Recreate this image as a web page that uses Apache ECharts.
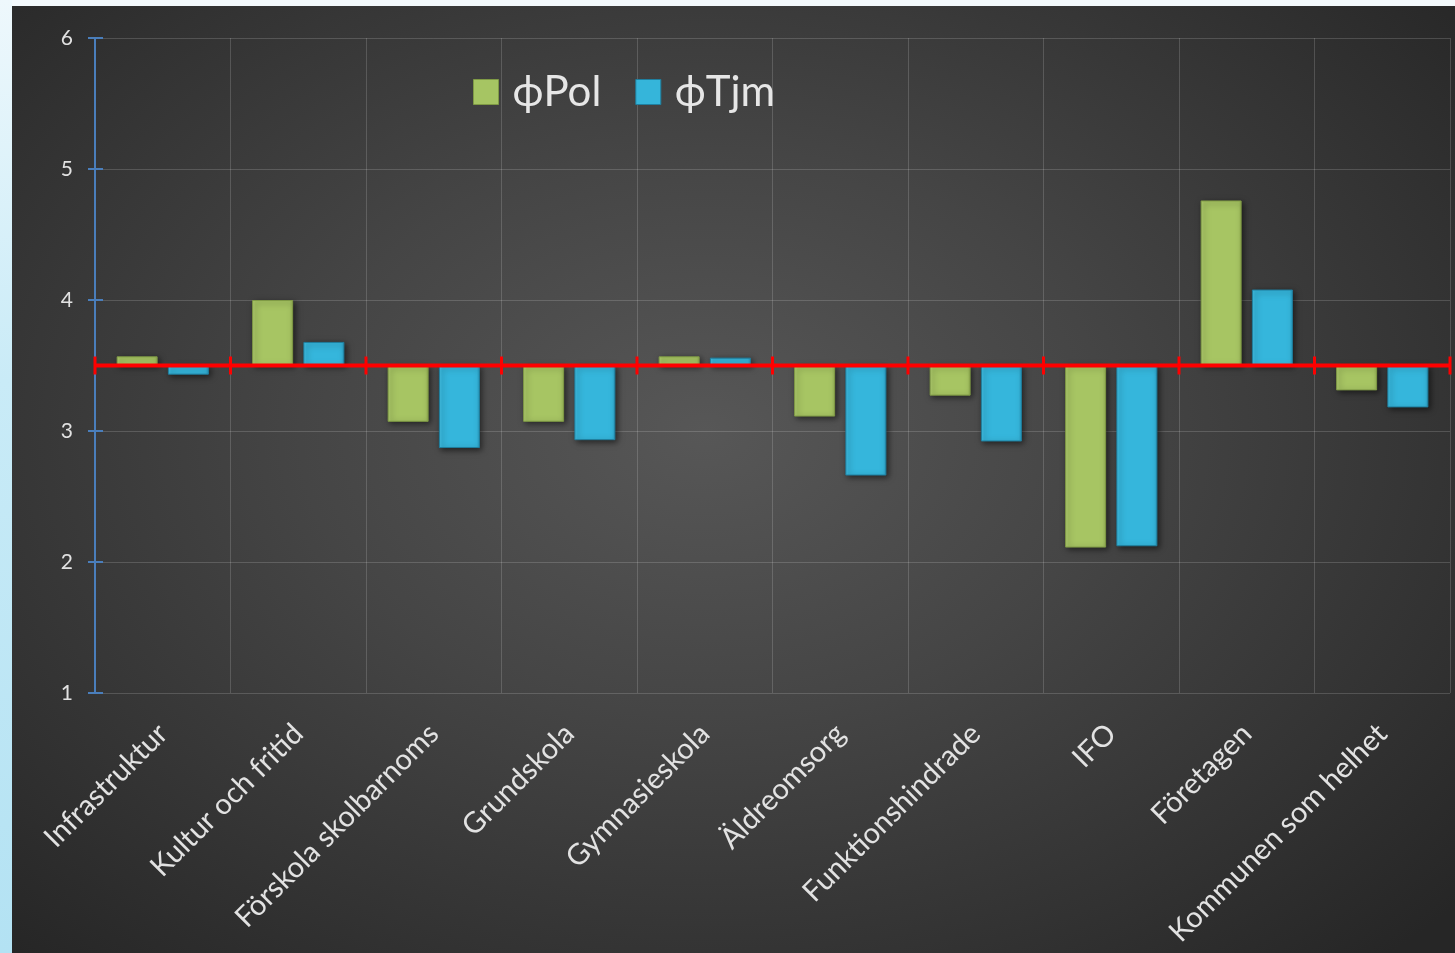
<!DOCTYPE html>
<html>
<head>
<meta charset="utf-8">
<script src="https://cdn.jsdelivr.net/npm/echarts@6/dist/echarts.min.js"></script>
<style>
  html, body { margin: 0; padding: 0; width: 1455px; height: 953px; overflow: hidden; background: #f3f9fc; }
  #strip { position: absolute; left: 0; top: 0; width: 12px; height: 953px;
    background: linear-gradient(180deg, #eef8fc 0%, #c9ebf7 40%, #b3e2f3 100%); }
  #chart { position: absolute; left: 12px; top: 6px; width: 1443px; height: 947px;
    background: radial-gradient(ellipse 70% 75% at 48% 45%, #575757 0%, #454545 40%, #333333 75%, #262626 100%); }
</style>
</head>
<body>
<div id="strip"></div>
<div id="chart"></div>
<script>
const categories = ['Infrastruktur', 'Kultur och fritid', 'Förskola skolbarnoms', 'Grundskola', 'Gymnasieskola',
  'Äldreomsorg', 'Funktionshindrade', 'IFO', 'Företagen', 'Kommunen som helhet'];
const polValues = [3.57, 4.00, 3.07, 3.07, 3.57, 3.11, 3.27, 2.11, 4.76, 3.31];
const tjmValues = [3.43, 3.68, 2.87, 2.93, 3.56, 2.66, 2.92, 2.12, 4.08, 3.18];
const seriesNames = ['ϕPol', 'ϕTjm'];
const referenceValue = 3.5;
const yTicks = [1, 2, 3, 4, 5, 6];

const chart = echarts.init(document.getElementById('chart'), null, { renderer: 'canvas' });
const FONT = 'Lato, "Noto Sans", sans-serif';

const baseOf = v => Math.min(v, referenceValue);
const deltaOf = v => Math.abs(v - referenceValue);

function barStyle(c0, c1, c2, edge) {
  return {
    color: new echarts.graphic.LinearGradient(0, 0, 1, 0, [
      { offset: 0, color: c1 }, { offset: 0.08, color: c0 }, { offset: 0.92, color: c0 }, { offset: 1, color: c2 }
    ]),
    borderColor: edge, borderWidth: 1,
    shadowColor: 'rgba(0,0,0,0.55)', shadowBlur: 6, shadowOffsetX: 2, shadowOffsetY: 2
  };
}
const greenStyle = barStyle('#a7c563', '#b5d274', '#94b052', '#7f9a45');
const blueStyle = barStyle('#35b6dc', '#45c4e8', '#2a9dc2', '#1f7f9f');
const clearStyle = { color: 'rgba(0,0,0,0)', borderWidth: 0, shadowBlur: 0 };

const common = { type: 'bar', barWidth: 41, barGap: '25%', silent: true, animation: false };

chart.setOption({
  backgroundColor: 'transparent',
  animation: false,
  textStyle: { fontFamily: FONT },
  legend: {
    data: [
      { name: seriesNames[0], itemStyle: { color: '#a6c563', borderColor: '#7f9a45', borderWidth: 1 } },
      { name: seriesNames[1], itemStyle: { color: '#35b5da', borderColor: '#1f7f9f', borderWidth: 1 } }
    ],
    left: 456, top: 60,
    icon: 'rect', itemWidth: 25, itemHeight: 25, itemGap: 34,
    textStyle: { color: '#e6e6e6', fontSize: 42, fontFamily: FONT, padding: [0, 0, 0, 9] }
  },
  grid: { left: 83, right: 5, top: 32, bottom: 260, containLabel: false },
  xAxis: {
    type: 'category', data: categories,
    axisLine: { show: false }, axisTick: { show: false },
    splitLine: { show: true, lineStyle: { color: 'rgba(255,255,255,0.16)', width: 1 } },
    axisLabel: { rotate: 45, margin: 36, color: '#e2e2e2', fontSize: 29, fontFamily: FONT, interval: 0 }
  },
  yAxis: [{
    type: 'value', min: 1, max: 6, interval: 1,
    axisLine: { show: true, lineStyle: { color: '#4a7ebb', width: 2 } },
    axisTick: { show: true, length: 7, lineStyle: { color: '#4a7ebb', width: 2 } },
    splitLine: { show: true, lineStyle: { color: 'rgba(255,255,255,0.16)', width: 1 } },
    axisLabel: { color: '#e2e2e2', fontSize: 21, margin: 22, fontFamily: FONT,
      formatter: v => yTicks.includes(v) ? String(v) : '' }
  }, {
    type: 'value', min: 1, max: 6, interval: 1, position: 'left',
    axisLine: { show: false },
    axisTick: { show: true, inside: true, length: 8, lineStyle: { color: '#4a7ebb', width: 2 } },
    splitLine: { show: false }, axisLabel: { show: false }
  }],
  series: [
    Object.assign({}, common, { name: '_polBase', stack: 'pol', data: polValues.map(baseOf), itemStyle: clearStyle }),
    Object.assign({}, common, { name: seriesNames[0], stack: 'pol', data: polValues.map(deltaOf), itemStyle: greenStyle }),
    Object.assign({}, common, { name: '_tjmBase', stack: 'tjm', data: tjmValues.map(baseOf), itemStyle: clearStyle }),
    Object.assign({}, common, { name: seriesNames[1], stack: 'tjm', data: tjmValues.map(deltaOf), itemStyle: blueStyle }),
    {
      type: 'custom', name: '_ref', silent: true, z: 10, clip: false,
      data: categories.map((c, i) => [i, referenceValue]),
      encode: { x: 0, y: 1 },
      renderItem: function (params, api) {
        const i = api.value(0);
        const p = api.coord([i, api.value(1)]);
        const w = api.size([1, 0])[0];
        const style = { stroke: '#ff0000', lineWidth: 4 };
        const tickStyle = { stroke: '#ff0000', lineWidth: 3 };
        const children = [
          { type: 'line', shape: { x1: p[0] - w / 2, y1: p[1], x2: p[0] + w / 2, y2: p[1] }, style: style },
          { type: 'line', shape: { x1: p[0] - w / 2, y1: p[1] - 9, x2: p[0] - w / 2, y2: p[1] + 9 }, style: tickStyle }
        ];
        if (i === categories.length - 1) {
          children.push({ type: 'line', shape: { x1: p[0] + w / 2, y1: p[1] - 9, x2: p[0] + w / 2, y2: p[1] + 9 }, style: tickStyle });
        }
        return { type: 'group', children: children };
      }
    }
  ]
});
</script>
</body>
</html>
